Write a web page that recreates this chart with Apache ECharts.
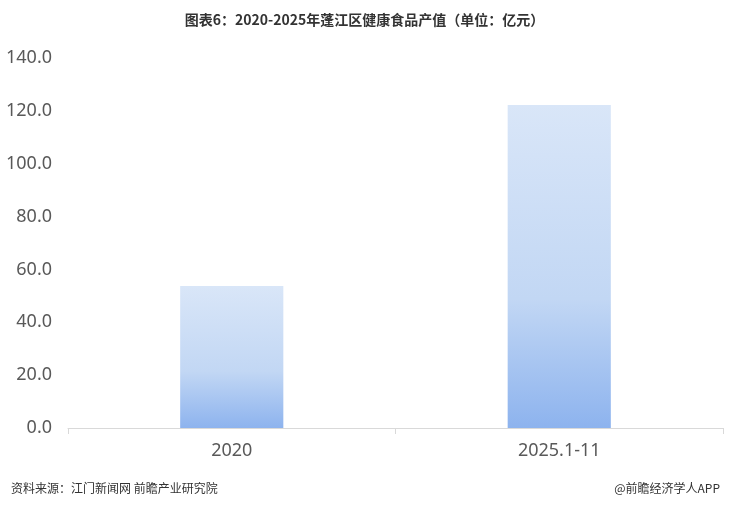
<!DOCTYPE html>
<html><head><meta charset="utf-8">
<script src="https://cdn.jsdelivr.net/npm/echarts@6/dist/echarts.min.js"></script>
<style>html,body{margin:0;padding:0;background:#fff;}#c{width:729px;height:505px;}</style>
</head><body><div id="c"></div>
<script>
const categories = ['2020', '2025.1-11'];
const values = [53.7, 122.2];
const yTicks = [0, 20, 40, 60, 80, 100, 120, 140];

const chart = echarts.init(document.getElementById('c'));
chart.setOption({
  animation: false,
  backgroundColor: '#fff',
  title: [
    {text: '图表6：2020-2025年蓬江区健康食品产值（单位：亿元）', left: 'center', top: 8,
     textStyle: {fontSize: 14, fontWeight: 'bold', color: '#333', fontFamily: 'Noto Sans CJK SC'}},
    {text: '资料来源：江门新闻网 前瞻产业研究院', left: 6, top: 477,
     textStyle: {fontSize: 12, fontWeight: 'normal', color: '#333', fontFamily: 'Noto Sans CJK SC'}},
    {text: '@前瞻经济学人APP', right: 4, top: 477,
     textStyle: {fontSize: 12, fontWeight: 'normal', color: '#333', fontFamily: 'Noto Sans CJK SC'}}
  ],
  grid: {left: 68, right: 6, top: 58, bottom: 77, containLabel: false},
  xAxis: {
    type: 'category', data: categories,
    axisLine: {lineStyle: {color: '#d9d9d9'}},
    axisTick: {show: true, length: 6, lineStyle: {color: '#d9d9d9'}},
    axisLabel: {fontSize: 18, color: '#595959', margin: 14, fontFamily: 'Noto Sans'}
  },
  yAxis: {
    type: 'value', min: yTicks[0], max: yTicks[yTicks.length - 1], interval: 20,
    splitLine: {show: false}, axisLine: {show: false}, axisTick: {show: false},
    axisLabel: {fontSize: 18, color: '#595959', margin: 16, fontFamily: 'Noto Sans',
      formatter: v => v.toFixed(1)}
  },
  series: [{
    type: 'bar', data: values, barWidth: '31.5%',
    itemStyle: {color: new echarts.graphic.LinearGradient(0, 0, 0, 1, [
      {offset: 0, color: '#d9e6f8'},
      {offset: 0.6, color: '#c2d7f4'},
      {offset: 1, color: '#8db3ee'}
    ])}
  }]
});
</script></body></html>
